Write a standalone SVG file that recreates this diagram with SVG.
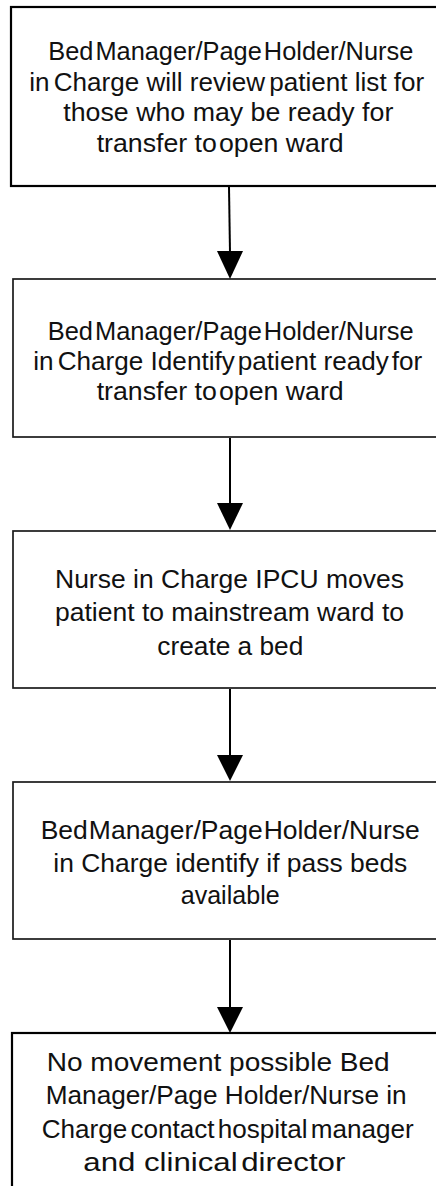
<svg xmlns="http://www.w3.org/2000/svg" width="436" height="1186" viewBox="0 0 436 1186">
<style>
  .box{fill:#fff;stroke:#000;stroke-width:2.2}
  .box2{fill:#fff;stroke:#1a1a1a;stroke-width:1.7}
  .t{font-family:"Liberation Sans",Arial,sans-serif;font-size:25px;fill:#111}
  .conn{stroke:#000;stroke-width:2;fill:none}
  .head{fill:#000}
</style>
<rect width="436" height="1186" fill="#fff"/>
<g id="node1">
  <rect class="box" x="11" y="7" width="460" height="179"/>
  <text class="t" x="48.3" y="59.5" textLength="365" lengthAdjust="spacingAndGlyphs">Bed<tspan dx="-5"> Manager/Page</tspan><tspan dx="-5"> Holder/Nurse</tspan></text>
  <text class="t" x="29.3" y="90.5" textLength="395" lengthAdjust="spacingAndGlyphs">in<tspan dx="-3"> Charge will review</tspan><tspan dx="-3"> patient list for</tspan></text>
  <text class="t" x="63.3" y="121" textLength="330" lengthAdjust="spacingAndGlyphs">those who may be ready for</text>
  <text class="t" x="96.7" y="151.5" textLength="247" lengthAdjust="spacingAndGlyphs">transfer to<tspan dx="-5"> open</tspan> ward</text>
</g>
<g id="node2">
  <rect class="box2" x="13" y="279" width="460" height="158"/>
  <text class="t" x="47.7" y="339.5" textLength="366" lengthAdjust="spacingAndGlyphs">Bed<tspan dx="-5"> Manager/Page</tspan><tspan dx="-5"> Holder/Nurse</tspan></text>
  <text class="t" x="33.3" y="369.5" textLength="389" lengthAdjust="spacingAndGlyphs">in<tspan dx="-3"> Charge Identify</tspan><tspan dx="-4"> patient ready</tspan><tspan dx="-4"> for</tspan></text>
  <text class="t" x="96.7" y="399.5" textLength="247" lengthAdjust="spacingAndGlyphs">transfer to<tspan dx="-5"> open</tspan> ward</text>
</g>
<g id="node3">
  <rect class="box2" x="13" y="531" width="460" height="157"/>
  <text class="t" x="55" y="587.5" textLength="349" lengthAdjust="spacingAndGlyphs">Nurse in Charge IPCU moves</text>
  <text class="t" x="55" y="621" textLength="349" lengthAdjust="spacingAndGlyphs">patient to mainstream ward to</text>
  <text class="t" x="157.3" y="654.5" textLength="146" lengthAdjust="spacingAndGlyphs">create a bed</text>
</g>
<g id="node4">
  <rect class="box2" x="13" y="782" width="460" height="157"/>
  <text class="t" x="40.7" y="838.5" textLength="379" lengthAdjust="spacingAndGlyphs">Bed<tspan dx="-6"> Manager/Page</tspan><tspan dx="-6"> Holder/Nurse</tspan></text>
  <text class="t" x="53.3" y="871.5" textLength="354" lengthAdjust="spacingAndGlyphs">in Charge identify if pass beds</text>
  <text class="t" x="180.7" y="903.5" textLength="99" lengthAdjust="spacingAndGlyphs">available</text>
</g>
<g id="node5">
  <rect class="box" x="12" y="1033" width="460" height="200"/>
  <text class="t" x="46.7" y="1071" textLength="343" lengthAdjust="spacingAndGlyphs">No movement possible Bed</text>
  <text class="t" x="45.7" y="1104" textLength="361" lengthAdjust="spacingAndGlyphs">Manager/Page Holder/Nurse in</text>
  <text class="t" x="41.7" y="1138" textLength="372" lengthAdjust="spacingAndGlyphs">Charge<tspan dx="-4"> contact</tspan><tspan dx="-4"> hospital</tspan><tspan dx="-4"> manager</tspan></text>
  <text class="t" x="83.3" y="1171" textLength="262" lengthAdjust="spacingAndGlyphs">and clinical<tspan dx="-4"> director</tspan></text>
</g>
<g id="connectors">
  <line class="conn" x1="229" y1="187" x2="230" y2="253"/>
  <polygon class="head" points="217,251 243,251 230,279"/>
  <line class="conn" x1="230" y1="438" x2="230" y2="505"/>
  <polygon class="head" points="217,503 243,503 230,530"/>
  <line class="conn" x1="230" y1="689" x2="230" y2="757"/>
  <polygon class="head" points="217,755 243,755 230,781"/>
  <line class="conn" x1="230" y1="940" x2="230" y2="1009"/>
  <polygon class="head" points="217,1007 243,1007 230,1033"/>
</g>
</svg>
